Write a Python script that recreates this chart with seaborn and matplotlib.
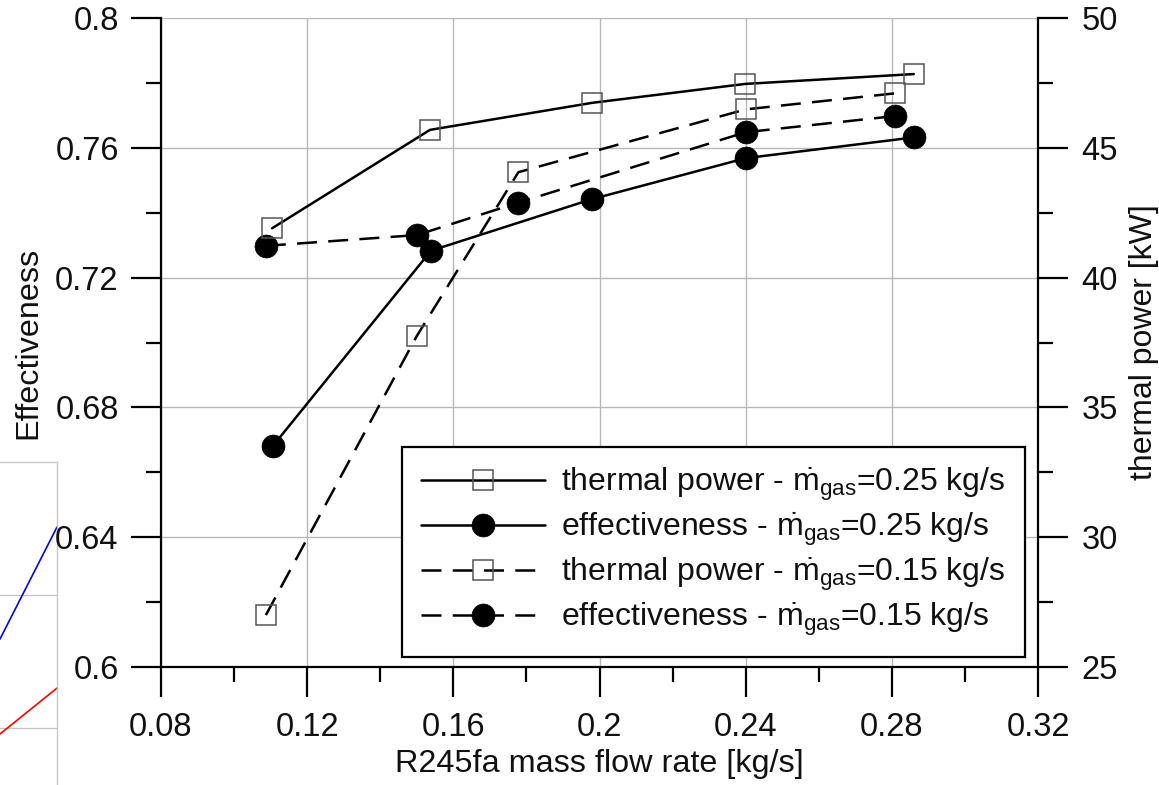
import numpy as np
import pandas as pd
import matplotlib
matplotlib.use("Agg")
import matplotlib.pyplot as plt
import seaborn as sns
from matplotlib.ticker import MultipleLocator, FuncFormatter

# ---------------- data ----------------
flow_tp25 = [0.1104, 0.1536, 0.1979, 0.2398, 0.2860]
power_tp25 = [41.9, 45.69, 46.73, 47.46, 47.84]

flow_ef25 = [0.1106, 0.1539, 0.1980, 0.2400, 0.2860]
eff_ef25 = [0.6681, 0.7283, 0.7442, 0.7568, 0.7632]

flow_tp15 = [0.1087, 0.1500, 0.1778, 0.2400, 0.2810]
power_tp15 = [27.0, 37.75, 44.06, 46.48, 47.10]

flow_ef15 = [0.1087, 0.1500, 0.1778, 0.2400, 0.2810]
eff_ef15 = [0.7298, 0.7331, 0.7431, 0.7648, 0.7698]

labels = [
    r"thermal power - $\dot{\mathrm{m}}_{\mathrm{gas}}$=0.25 kg/s",
    r"effectiveness - $\dot{\mathrm{m}}_{\mathrm{gas}}$=0.25 kg/s",
    r"thermal power - $\dot{\mathrm{m}}_{\mathrm{gas}}$=0.15 kg/s",
    r"effectiveness - $\dot{\mathrm{m}}_{\mathrm{gas}}$=0.15 kg/s",
]

# fragment of a neighbouring chart visible at the left edge
frag_x = [1.0, 2.0]
frag_blue = [1.669, 2.511]
frag_red = [0.955, 1.30]

# ---------------- style ----------------
sns.set_style("white")
plt.rcParams["font.family"] = ["Liberation Sans", "DejaVu Sans"]
plt.rcParams["mathtext.fontset"] = "custom"
plt.rcParams["mathtext.rm"] = "Liberation Sans"
plt.rcParams["mathtext.it"] = "Liberation Sans:italic"
plt.rcParams["mathtext.bf"] = "Liberation Sans:bold"

W, H = 1159, 785
fig = plt.figure(figsize=(W / 100, H / 100), dpi=100)

# fragment axes (drawn first, behind)
fa = fig.add_axes([-57 / W, (H - 862) / H, 114 / W, 400 / H])
fa.patch.set_alpha(0)
fa.set_xlim(0, 2)
fa.set_ylim(3 - 400 / 133, 3)
for s in fa.spines.values():
    s.set_color("#c8c8c8")
    s.set_linewidth(1.0)
for gy in (1, 2):
    fa.axhline(gy, color="#c4c4c4", lw=0.9)
sns.lineplot(x=frag_x, y=frag_blue, ax=fa, color="blue", lw=1.2, legend=False)
sns.lineplot(x=frag_x, y=frag_red, ax=fa, color="red", lw=1.2, legend=False)
fa.set_xticks([]); fa.set_yticks([])
fa.set_xlabel(""); fa.set_ylabel("")

# main axes
L, R, T, B = 161, 1038, 18, 667
ax = fig.add_axes([L / W, 1 - B / H, (R - L) / W, (B - T) / H])
ax2 = ax.twinx()

lw = 1.8
dash = (0, (8, 4.5))
sq = dict(marker="s", markersize=14.5, markerfacecolor="none",
          markeredgecolor="#555555", markeredgewidth=1.1)
ci = dict(marker="o", markersize=16.5, markerfacecolor="black",
          markeredgecolor="black", markeredgewidth=0.5)

sns.lineplot(x=flow_ef25, y=eff_ef25, ax=ax, color="black", lw=lw,
             label=labels[1], legend=False, **ci)
sns.lineplot(x=flow_ef15, y=eff_ef15, ax=ax, color="black", lw=lw,
             linestyle=dash, label=labels[3], legend=False, **ci)
sns.lineplot(x=flow_tp25, y=power_tp25, ax=ax2, color="black", lw=lw,
             label=labels[0], legend=False, **sq)
sns.lineplot(x=flow_tp15, y=power_tp15, ax=ax2, color="black", lw=lw,
             linestyle=dash, label=labels[2], legend=False, **sq)

ax.set_xlim(0.08, 0.32)
ax.set_ylim(0.6, 0.8)
ax2.set_ylim(25, 50)

ax.xaxis.set_major_locator(MultipleLocator(0.04))
ax.xaxis.set_minor_locator(MultipleLocator(0.02))
ax.yaxis.set_major_locator(MultipleLocator(0.04))
ax.yaxis.set_minor_locator(MultipleLocator(0.02))
ax2.yaxis.set_major_locator(MultipleLocator(5))
ax2.yaxis.set_minor_locator(MultipleLocator(2.5))

fmt = FuncFormatter(lambda v, p: f"{round(v, 4):g}")
ax.xaxis.set_major_formatter(fmt)
ax.yaxis.set_major_formatter(fmt)
ax2.yaxis.set_major_formatter(fmt)

ax.grid(True, which="major", color="#b8b8b8", lw=1.0)
ax2.grid(False)

for a in (ax, ax2):
    a.spines["top"].set_visible(False)
    for s in ("left", "right", "bottom"):
        a.spines[s].set_color("black")
        a.spines[s].set_linewidth(1.6)
ax.spines["right"].set_visible(False)
ax2.spines["left"].set_visible(False)
ax2.spines["bottom"].set_visible(False)

fs = 23.5
ax.tick_params(axis="both", which="major", direction="out", length=21.5,
               width=1.6, color="black", labelsize=fs, pad=9,
               left=True, bottom=True, labelcolor="#111111")
ax.tick_params(axis="both", which="minor", direction="out", length=11,
               width=1.6, color="black", left=True, bottom=True)
ax.tick_params(axis="x", which="major", pad=11)
ax2.tick_params(axis="y", which="major", direction="out", length=21.5,
                width=1.6, color="black", labelsize=fs, pad=10, right=True,
                labelcolor="#111111")
ax2.tick_params(axis="y", which="minor", direction="out", length=11,
                width=1.6, color="black", right=True)

ax.set_xlabel("R245fa mass flow rate [kg/s]", fontsize=23.3, color="#111111")
ax.set_ylabel("Effectiveness", fontsize=23.3, color="#111111")
ax2.set_ylabel("thermal power [kW]", fontsize=23.0, color="#111111")
ax.xaxis.set_label_coords(0.5, -0.126)
ax.yaxis.set_label_coords(-0.134, 0.5)
ax2.yaxis.set_label_coords(1.104, 0.5)

h_ef = ax.get_lines()
h_tp = ax2.get_lines()
handles = [h_tp[0], h_ef[0], h_tp[1], h_ef[1]]
leg = ax2.legend(handles, labels, loc="lower right",
                 bbox_to_anchor=((1025 - L) / (R - L), (B - 657) / (B - T)),
                 borderaxespad=0, fontsize=23, frameon=True, fancybox=False,
                 framealpha=1, edgecolor="black", handlelength=3.9,
                 handletextpad=0.5, labelspacing=0.24, borderpad=0.6)
leg.get_frame().set_linewidth(1.6)
for t in leg.get_texts():
    t.set_color("#111111")

fig.savefig("out.png", dpi=100)
